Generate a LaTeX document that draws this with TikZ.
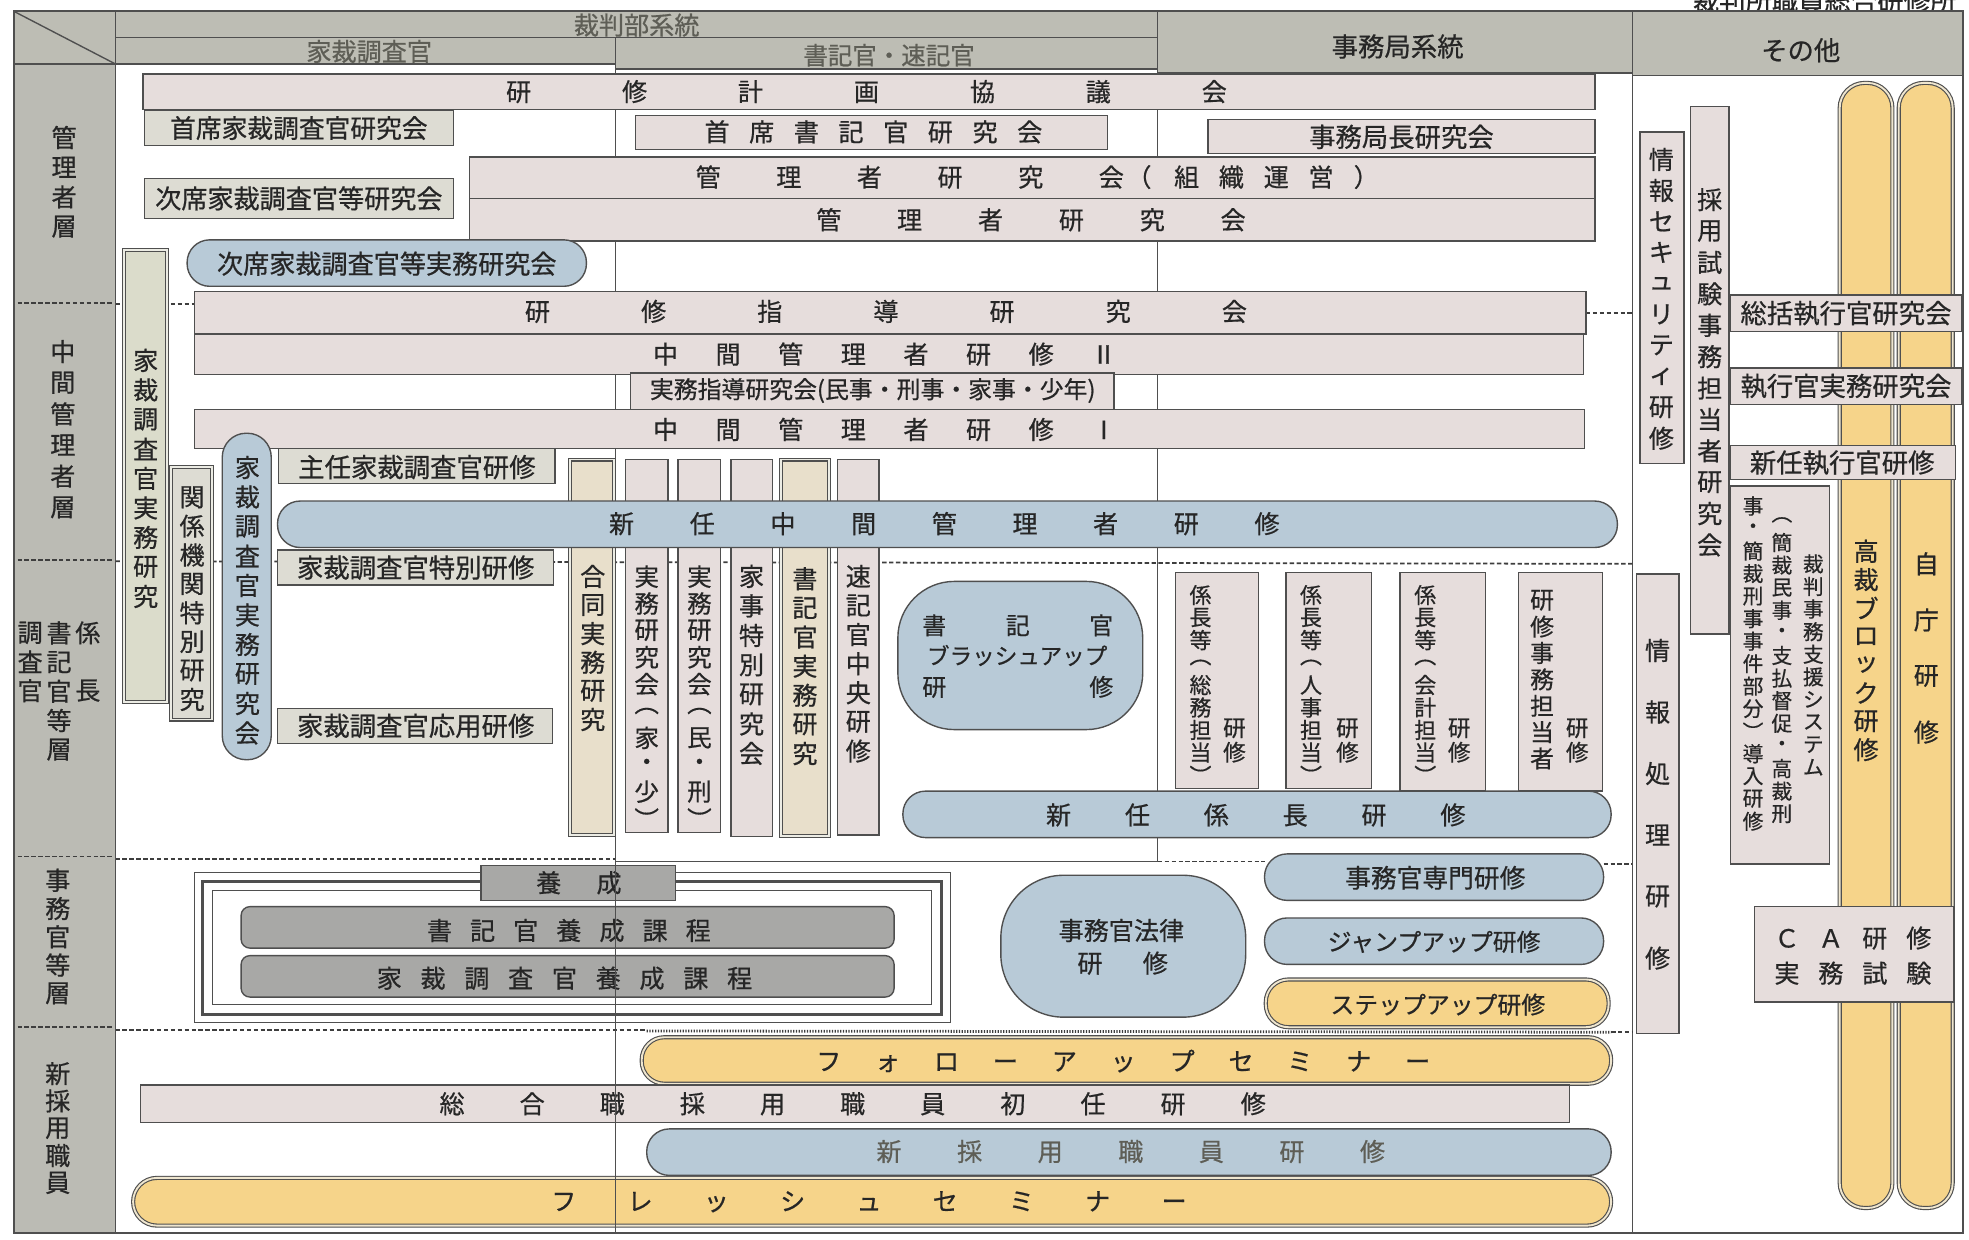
\documentclass[tikz,border=0pt]{standalone}
\usepackage{fontspec}
\setmainfont{Noto Sans CJK JP}[FakeBold=0.6]
\usetikzlibrary{fit}
\definecolor{cLine}{HTML}{4F4F4F}
\definecolor{cText}{HTML}{262626}
\definecolor{cFade}{HTML}{5E5E56}
\definecolor{cHd}{HTML}{BDBDB4}
\definecolor{cLcol}{HTML}{BBBBB4}
\definecolor{cPk}{HTML}{E6DDDC}
\definecolor{cGg}{HTML}{DDDCD3}
\definecolor{cBl}{HTML}{B8CAD7}
\definecolor{cYl}{HTML}{F6D48A}
\definecolor{cYlEdge}{HTML}{EFE6CF}
\definecolor{cDg}{HTML}{A8A8A6}
\definecolor{cBg}{HTML}{E8DFCB}
\definecolor{cLg}{HTML}{DBDCCB}
\definecolor{cDblIn}{HTML}{ECECE4}
\definecolor{cDash}{HTML}{3E3E3E}
\newcommand\fsz[1]{\fontsize{#1}{#1}\selectfont}
\ExplSyntaxOn
\NewDocumentCommand\vstk{mm}{\vbox{\offinterlineskip\tl_map_inline:nn{#2}{\hbox_to_wd:nn{1em}{\hss\vbox_to_ht:nn{#1}{\vss\hbox:n{##1}\vss}\hss}}}}
\NewDocumentCommand\hspr{mm}{\hbox_to_wd:nn{#1}{\tl_map_inline:nn{#2}{##1\hfil}\unskip}}
\ExplSyntaxOff
\newcommand\bxx[6]{\node[#1,fit={(#3,#4)(#5,#6)}] (#2) {};}
\tikzset{
 bdr/.style={draw=cLine, line width=1.1pt},
 sHd/.style={bdr, fill=cHd},
 sLcol/.style={bdr, fill=cLcol},
 sPk/.style={bdr, fill=cPk},
 sGg/.style={bdr, fill=cGg},
 sDg/.style={bdr, fill=cDg},
 sBl/.style={bdr, fill=cBl, rounded corners=#1}, sBl/.default=18pt,
 sYl/.style={draw=cLine, line width=0.9pt, fill=cYl, double=cYlEdge, double distance=1.5pt, rounded corners=#1}, sYl/.default=18pt,
 sDbl/.style={draw=cLine, line width=0.9pt, double=cDblIn, double distance=1.4pt, fill=#1},
 sDash/.style={draw=cDash, line width=1.4pt, dash pattern=on 3.5pt off 2pt},
 sDense/.style={draw=cDash, line width=2.2pt, dash pattern=on 1pt off 1.2pt},
 sGrid/.style={draw=cLine, line width=0.9pt},
}
\begin{document}
\begin{tikzpicture}[x=1pt,y=-1pt,every node/.style={inner sep=0pt,outer sep=0pt,text=cText,font=\fsz{20}}]
\useasboundingbox (0,0) rectangle (1568,987);
\fill[white] (0,0) rectangle (1568,987);

% caption
\node[font=\fsz{21}] (cap) at (1453,1) {裁判所職員総合研修所};

% header
\bxx{sHd}{hdDiag}{11}{9}{92}{51}
\draw[bdr] (hdDiag.north west) -- (hdDiag.south east);
\bxx{sHd}{hdSaiban}{92}{9}{922}{30}
\bxx{sHd}{hdKasai}{92}{30}{490}{51}
\bxx{sHd}{hdShoki}{490}{30}{922}{55}
\bxx{sHd}{hdJimu}{922}{9}{1300}{58}
\bxx{sHd}{hdOther}{1300}{9}{1563}{60}
\node[text=cFade] (tSaiban) at (507,20) {裁判部系統};
\node[text=cFade] (tKasai) at (294,41) {家裁調査官};
\node[font=\fsz{19.5},text=cFade] (tShoki) at (708,44) {書記官・速記官};
\node[font=\fsz{21}] (tJimu) at (1113,37) {事務局系統};
\node[font=\fsz{21}] (tOther) at (1434,40) {その他};

% left column
\bxx{sLcol}{leftCol}{11}{51}{92}{982}
\draw[sDash] (14,241) -- (90,241);
\draw[sDash] (14,446) -- (90,446);
\draw[sDash] (14,682) -- (90,682);
\draw[sDash] (14,818) -- (90,818);
\node (lKanri) at (51,145) {\vstk{23.67pt}{管理者層}};
\node (lChukan) at (50,342) {\vstk{24.8pt}{中間管理者層}};
\node (lKakari1) at (24,527) {\vstk{23pt}{調査官}};
\node (lKakari2) at (47,550.5) {\vstk{23.25pt}{書記官等層}};
\node (lKakari3) at (70,527) {\vstk{23pt}{係　長}};
\node (lJimukan) at (46,746) {\vstk{22.5pt}{事務官等層}};
\node (lShinsaiyou) at (46,898.5) {\vstk{21.75pt}{新採用職員}};

% grid lines and layer boundaries
\draw[sGrid] (490,55) -- (490,686);
\draw[sGrid] (922,58) -- (922,686) -- (490,686);
\draw[sGrid] (1300,60) -- (1300,982);
\draw[sDash] (92,242) -- (155,242);
\draw[sDash] (1263,249) -- (1300,249);
\draw[sDash] (92,447) -- (1300,449);
\draw[sDash] (92,684) -- (490,684);
\draw[sDash] (922,686) -- (1007,686);
\draw[sDash] (1277,688) -- (1300,688);
\draw[sDash] (92,820) -- (515,820);
\draw[sDense] (515,821) -- (1283,822);
\draw[sDash] (1283,822) -- (1300,822);

% ===== 管理者層 =====
\bxx{sPk}{keikaku}{114}{59}{1270}{87}
\node (tKeikaku) at (690,73) {\hspr{574pt}{研修計画協議会}};
\bxx{sGg}{shusekiKasai}{115}{88}{361}{116}
\node[font=\fsz{20.5}] (tShusekiKasai) at (238,102) {首席家裁調査官研究会};
\bxx{sPk}{shusekiShoki}{506}{92}{882}{119}
\node (tShusekiShoki) at (695.5,105) {\hspr{269pt}{首席書記官研究会}};
\bxx{sPk}{jimukyokucho}{962}{95}{1270}{122}
\node[font=\fsz{21}] (tJimukyokucho) at (1116,109) {事務局長研究会};
\bxx{sPk}{kanriSoshiki}{374}{125}{1270}{158}
\node (tKanriSoshikiA) at (724.5,141) {\hspr{341pt}{管理者研究会}};
\node (tKanriSoshikiB) at (907,141) {（};
\node (tKanriSoshikiC) at (998.5,141) {\hspr{127pt}{組織運営}};
\node (tKanriSoshikiD) at (1088,141) {）};
\bxx{sGg}{jisekiKasai}{115}{142}{361}{174}
\node[font=\fsz{20.8}] (tJisekiKasai) at (238,158) {次席家裁調査官等研究会};
\bxx{sPk}{kanri}{374}{158}{1270}{192}
\node (tKanri) at (821,175) {\hspr{342pt}{管理者研究会}};
\bxx{sBl}{jisekiJitsumu}{149}{191}{467}{228}
\node[font=\fsz{20.8}] (tJisekiJitsumu) at (308,210) {次席家裁調査官等実務研究会};

% ===== 中間管理者層 =====
\bxx{sPk}{shidou}{155}{232}{1263}{266}
\node (tShidou) at (705.5,248) {\hspr{575pt}{研修指導研究会}};
\bxx{sPk}{chukanB}{155}{266}{1261}{298}
\node (tChukanB) at (704.5,282) {\hspr{369pt}{中間管理者研修Ⅱ}};
\bxx{sPk}{chukanA}{155}{326}{1262}{357}
\node (tChukanA) at (704.5,342) {\hspr{369pt}{中間管理者研修Ⅰ}};
\bxx{sPk}{jitsumuShidou}{502}{297}{887}{326}
\node[font=\fsz{19}] (tJitsumuShidou) at (695,311) {実務指導研究会(民事・刑事・家事・少年)};

% left verticals
\bxx{sDbl=cLg}{kasaiJK}{99}{199}{133}{559}
\node (tKasaiJK) at (116,381) {\vstk{23.5pt}{家裁調査官実務研究}};
\bxx{sDbl=cGg}{kankei}{136}{372}{169}{573}
\node (tKankei) at (153,476.5) {\vstk{23pt}{関係機関特別研究}};
\bxx{sBl=19pt}{kasaiJKai}{177}{345}{216}{605}
\node (tKasaiJKai) at (197,478) {\vstk{23.5pt}{家裁調査官実務研究会}};
\bxx{sGg}{shunin}{222}{357}{442}{385}
\node[font=\fsz{21}] (tShunin) at (332,372) {主任家裁調査官研修};
\bxx{sGg}{tokubetsu}{221}{438}{441}{466}
\node[font=\fsz{21}] (tTokubetsu) at (331,452) {家裁調査官特別研修};
\bxx{sGg}{ouyou}{221}{564}{440}{592}
\node[font=\fsz{21}] (tOuyou) at (331,578) {家裁調査官応用研修};

% 書記官 column verticals
\bxx{sDbl=cBg}{goudou}{454}{366}{489}{665}
\node (tGoudou) at (472,516) {\vstk{22.8pt}{合同実務研究}};
\bxx{sPk}{jkKashou}{498}{366}{532}{663}
\node[font=\fsz{19.5}] (tJkKashou) at (515,555.5) {\vstk{21.4pt}{実務研究会︵家・少︶}};
\bxx{sPk}{jkMinkei}{540}{366}{574}{663}
\node[font=\fsz{19.5}] (tJkMinkei) at (557,555.5) {\vstk{21.4pt}{実務研究会︵民・刑︶}};
\bxx{sPk}{kaji}{582}{366}{615}{666}
\node (tKaji) at (598.5,529.5) {\vstk{23.5pt}{家事特別研究会}};
\bxx{sDbl=cBg}{shokiJ}{622}{366}{660}{666}
\node (tShokiJ) at (641,530.5) {\vstk{23.2pt}{書記官実務研究}};
\bxx{sPk}{sokki}{667}{366}{700}{665}
\node (tSokki) at (683.5,528.5) {\vstk{23.2pt}{速記官中央研修}};

\bxx{sBl}{shinninChukan}{221}{399}{1288}{436}
\node (tShinninChukan) at (752,417) {\hspr{534pt}{新任中間管理者研修}};

% ===== 係長層 =====
\bxx{sBl=45pt}{brush}{715}{463}{910}{581}
\node[font=\fsz{19}] (tBrushA) at (810.5,498) {\hspr{152pt}{書記官}};
\node[font=\fsz{18}] (tBrushB) at (810,522) {ブラッシュアップ};
\node[font=\fsz{19}] (tBrushC) at (810.5,547) {\hspr{152pt}{研修}};

\bxx{sPk}{kakSoumu}{936}{456}{1002}{628}
\node[font=\fsz{17.5}] (tKakSoumuA) at (956,545.5) {\vstk{17.9pt}{係長等︵総務担当︶}};
\node[font=\fsz{18}] (tKakSoumuB) at (983,589.5) {\vstk{19pt}{研修}};
\bxx{sPk}{kakJinji}{1024}{456}{1092}{628}
\node[font=\fsz{17.5}] (tKakJinjiA) at (1044,545.5) {\vstk{17.9pt}{係長等︵人事担当︶}};
\node[font=\fsz{18}] (tKakJinjiB) at (1073,589.5) {\vstk{19pt}{研修}};
\bxx{sPk}{kakKaikei}{1115}{456}{1183}{630}
\node[font=\fsz{17.5}] (tKakKaikeiA) at (1135,545.5) {\vstk{17.9pt}{係長等︵会計担当︶}};
\node[font=\fsz{18}] (tKakKaikeiB) at (1162,589.5) {\vstk{19pt}{研修}};
\bxx{sPk}{kenshuJimu}{1209}{456}{1276}{630}
\node[font=\fsz{19}] (tKenshuJimuA) at (1228,541) {\vstk{21pt}{研修事務担当者}};
\node[font=\fsz{18}] (tKenshuJimuB) at (1256,589.5) {\vstk{19pt}{研修}};

\bxx{sBl}{shinninKak}{719}{630}{1283}{667}
\node (tShinninKak) at (1000,649) {\hspr{334pt}{新任係長研修}};

% ===== 事務官等層 =====
\bxx{draw=cLine,line width=1pt}{yoseiFrameA}{155}{695}{757}{814}
\bxx{draw=cLine,line width=2.6pt}{yoseiFrameB}{161}{702}{750}{808}
\bxx{draw=cLine,line width=1pt}{yoseiFrameC}{169}{709}{742}{800}
\bxx{sDg}{yosei}{383}{689}{538}{717}
\node (tYosei) at (461,703) {\hspr{68pt}{養成}};
\bxx{sDg,rounded corners=7pt}{shokiYosei}{192}{722}{712}{755}
\node (tShokiYosei) at (453,741) {\hspr{226pt}{書記官養成課程}};
\bxx{sDg,rounded corners=7pt}{kasaiYosei}{192}{761}{712}{794}
\node (tKasaiYosei) at (449.5,779) {\hspr{299pt}{家裁調査官養成課程}};

\bxx{sBl=50pt}{houritsu}{797}{697}{992}{810}
\node (tHouritsuA) at (893,741) {事務官法律};
\node (tHouritsuB) at (894,767) {\hspr{72pt}{研修}};
\bxx{sBl}{senmon}{1007}{680}{1277}{717}
\node[font=\fsz{20.5}] (tSenmon) at (1143,699) {事務官専門研修};
\bxx{sBl}{jumpUp}{1007}{731}{1277}{768}
\node[font=\fsz{19}] (tJumpUp) at (1142,750) {ジャンプアップ研修};
\bxx{sYl}{stepUp}{1008}{780}{1281}{818}
\node[font=\fsz{19}] (tStepUp) at (1145,800) {ステップアップ研修};

% ===== 新採用職員 =====
\bxx{sYl}{follow}{511}{826}{1283}{863}
\node (tFollow) at (894.5,845) {\hspr{489pt}{フォローアップセミナー}};
\bxx{sPk}{sougou}{112}{864}{1250}{894}
\node (tSougou) at (679,879) {\hspr{658pt}{総合職採用職員初任研修}};
\bxx{sBl}{shinsaiyou}{515}{899}{1283}{936}
\node[text=cFade] (tShinsaiyou) at (900.5,917) {\hspr{405pt}{新採用職員研修}};
\bxx{sYl=19pt}{fresh}{106}{938}{1283}{976}
\node (tFresh) at (692,957) {\hspr{506pt}{フレッシュセミナー}};

% ===== その他 =====
\bxx{sPk}{security}{1306}{105}{1341}{369}
\node (tSecurity) at (1323,238) {\vstk{24.67pt}{情報セキュリティ研修}};
\bxx{sPk}{saiyouShiken}{1346}{85}{1377}{505}
\node (tSaiyouShiken) at (1361.5,296.5) {\vstk{25pt}{採用試験事務担当者研究会}};
\bxx{sPk}{jouhouShori}{1303}{457}{1337}{823}
\node (tJouhouShori) at (1320,640.5) {\vstk{49pt}{情報処理研修}};
\bxx{sYl=20pt}{kousaiBlock}{1465}{66}{1507}{962}
\node (tKousaiBlock) at (1486,518) {\vstk{22.57pt}{高裁ブロック研修}};
\bxx{sYl=20pt}{jichou}{1512}{66}{1555}{962}
\node (tJichou) at (1534,516) {\vstk{44.67pt}{自庁研修}};
\bxx{sPk}{soukatsu}{1378}{235}{1562}{264}
\node[font=\fsz{21}] (tSoukatsu) at (1470,249.5) {総括執行官研究会};
\bxx{sPk}{shikkouJ}{1378}{293}{1562}{322}
\node[font=\fsz{21}] (tShikkouJ) at (1470,307.5) {執行官実務研究会};
\bxx{sPk}{shinninShikkou}{1378}{355}{1557}{382}
\node[font=\fsz{21}] (tShinninShikkou) at (1467,368.5) {新任執行官研修};
\bxx{sPk}{shien}{1378}{387}{1457}{688}
\node[font=\fsz{16.5}] (tShienA) at (1444,530) {\vstk{18pt}{裁判事務支援システム}};
\node[font=\fsz{16.5}] (tShienB) at (1419,531) {\vstk{18pt}{︵簡裁民事・支払督促・高裁刑}};
\node[font=\fsz{16.5}] (tShienC) at (1396,528.5) {\vstk{17.93pt}{事・簡裁刑事事件部分︶導入研修}};
\bxx{sPk}{caBox}{1397}{722}{1556}{798}
\node (tCaA) at (1475.5,747) {\hspr{125pt}{ＣＡ研修}};
\node (tCaB) at (1475.5,775) {\hspr{125pt}{実務試験}};

% line over lower region and outer frame
\draw[sGrid] (490,686) -- (490,982);
\draw[bdr, line width=1.5pt] (11,9) rectangle (1563,982);
\end{tikzpicture}
\end{document}
